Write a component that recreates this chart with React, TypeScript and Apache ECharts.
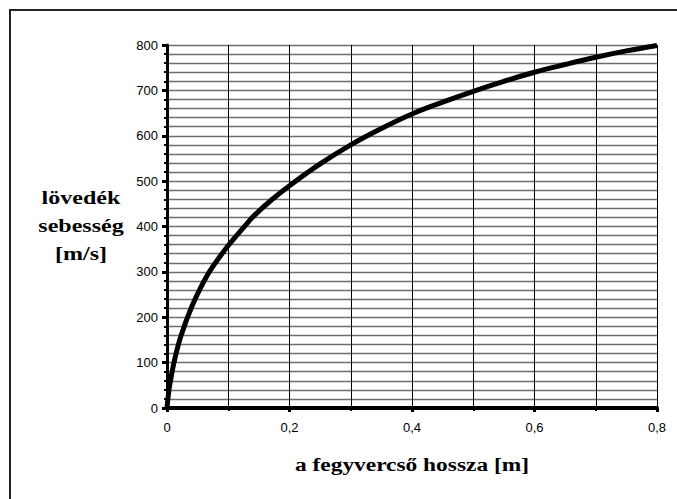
import React, { useEffect, useRef } from "react";
import * as echarts from "echarts";

const barrelLength = [0, 0.003, 0.007, 0.013, 0.023, 0.04, 0.056, 0.073, 0.1, 0.127, 0.143, 0.171, 0.2, 0.25, 0.3, 0.35, 0.4, 0.45, 0.5, 0.55, 0.6, 0.65, 0.7, 0.75, 0.8];
const velocity = [0, 38, 70, 110, 160, 222, 268, 308, 358, 401, 425, 459, 490, 538, 580, 616, 648, 674, 698, 720, 740, 757, 773, 787, 799];

const xAxisTitle = "a fegyvercső hossza [m]";
const yAxisTitle = "lövedék\nsebesség\n[m/s]";

const serif = "'Liberation Serif', 'Times New Roman', serif";
const sans = "'Liberation Sans', Arial, sans-serif";

export default function App() {
  const ref = useRef<HTMLDivElement>(null);
  useEffect(() => {
    if (!ref.current) return;
    const chart = echarts.init(ref.current, null, { renderer: "svg" });
    const data = barrelLength.map((x, i) => [x, velocity[i]]);
    chart.setOption({
      animation: false,
      backgroundColor: "#fff",
      grid: { left: 167, right: 20, top: 45, bottom: 91, containLabel: false },
      xAxis: {
        type: "value",
        min: 0,
        max: 0.8,
        interval: 0.2,
        axisLine: { show: true, onZero: false, lineStyle: { color: "#000", width: 4 } },
        axisTick: { show: true, length: 4, lineStyle: { color: "#000", width: 3 } },
        minorTick: { show: true, splitNumber: 2, length: 3, lineStyle: { color: "#000", width: 2 } },
        splitLine: { show: true, lineStyle: { color: "#000", width: 1 } },
        minorSplitLine: { show: true, lineStyle: { color: "#000", width: 1 } },
        axisLabel: {
          color: "#000",
          fontFamily: sans,
          fontSize: 13,
          margin: 13,
          formatter: (v: number) => (v === 0 ? "0" : v.toFixed(1).replace(".", ",")),
        },
      },
      yAxis: {
        type: "value",
        min: 0,
        max: 800,
        interval: 100,
        axisLine: { show: true, lineStyle: { color: "#000", width: 3 } },
        axisTick: { show: true, length: 5, lineStyle: { color: "#000", width: 3 } },
        minorTick: { show: true, splitNumber: 5, length: 3, lineStyle: { color: "#000", width: 2 } },
        splitLine: { show: true, lineStyle: { color: "#6e6e6e", width: 1.3 } },
        minorSplitLine: { show: true, lineStyle: { color: "#6e6e6e", width: 1.3 } },
        axisLabel: { color: "#000", fontFamily: sans, fontSize: 13, margin: 9 },
      },
      series: [
        {
          type: "line",
          data,
          showSymbol: false,
          smooth: 0.4,
          lineStyle: { color: "#000", width: 5 },
          z: 5,
        },
      ],
      graphic: [
        {
          type: "rect",
          shape: { x: 10, y: 10, width: 720, height: 540 },
          style: { fill: "none", stroke: "#222", lineWidth: 2 },
          silent: true,
        },
        {
          type: "text",
          x: 81,
          y: 226,
          scaleX: 1.3,
          style: {
            text: yAxisTitle,
            fontFamily: serif,
            fontWeight: "bold",
            fontSize: 18.5,
            lineHeight: 28,
            fill: "#000",
            align: "center",
            verticalAlign: "middle",
          },
        },
        {
          type: "text",
          x: 412,
          y: 465,
          scaleX: 1.2,
          style: {
            text: xAxisTitle,
            fontFamily: serif,
            fontWeight: "bold",
            fontSize: 19.5,
            fill: "#000",
            align: "center",
            verticalAlign: "middle",
          },
        },
      ],
    });
    return () => chart.dispose();
  }, []);
  return (
    <div
      ref={ref}
      style={{ position: "fixed", left: 0, top: 0, width: 677, height: 499, background: "#fff" }}
    />
  );
}
